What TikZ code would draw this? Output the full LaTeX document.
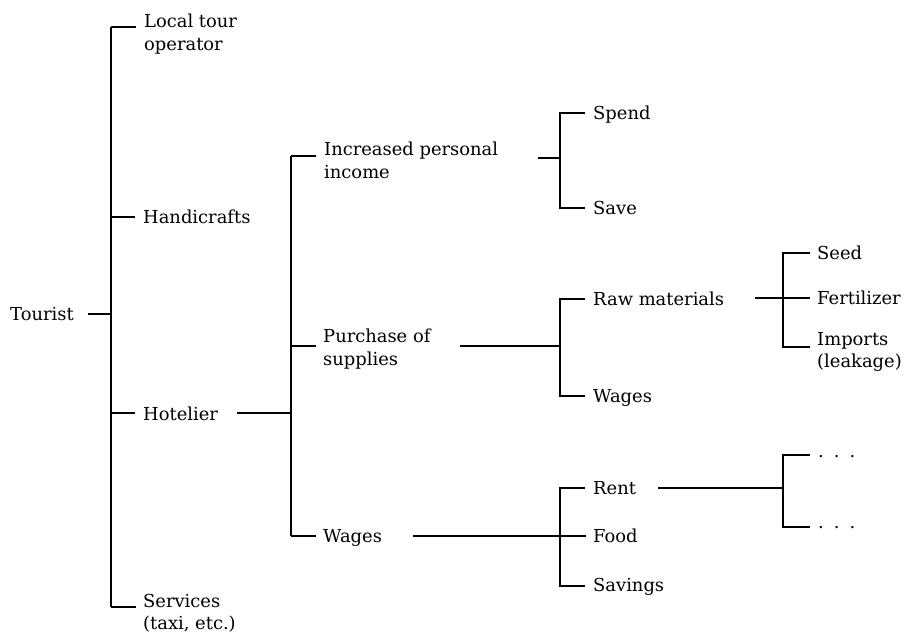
\documentclass[tikz,border=0pt]{standalone}
\usepackage{fontspec}
\setmainfont{DejaVu Serif}
\begin{document}
\begin{tikzpicture}[x=1pt,y=-1pt,
  lbl/.style={inner sep=0pt, font=\fontsize{17.9}{22.5}\selectfont},
  sl/.style={lbl, anchor=base west},
  ml/.style={lbl, anchor=north west, align=left},
  ln/.style={line width=2.1pt}]
\useasboundingbox (0,0) rectangle (909,634);

% ---- labels ----
\node[sl] (tourist) at (10,320) {Tourist};
\node[ml] (local) at (144,14) {Local tour\\operator};
\node[sl] (handi) at (143,223) {Handicrafts};
\node[sl] (hotel) at (143,420) {Hotelier};
\node[ml] (serv) at (143,594) {Services\\(taxi, etc.)};

\node[ml] (income) at (324,142) {Increased personal\\income};
\node[ml] (purch) at (323,329) {Purchase of\\supplies};
\node[sl] (wages1) at (323,542) {Wages};

\node[sl] (spend) at (593,119) {Spend};
\node[sl] (save) at (593,214) {Save};
\node[sl] (raw) at (593,305) {Raw materials};
\node[sl] (wages2) at (593,402) {Wages};
\node[sl] (rent) at (593,494) {Rent};
\node[sl] (food) at (593,542) {Food};
\node[sl] (savings) at (593,591) {Savings};

\node[sl] (seed) at (817,259) {Seed};
\node[sl] (fert) at (817,304) {Fertilizer};
\node[ml] (imports) at (817,332) {Imports\\(leakage)};
\node[sl] (dots1) at (818,457) {.\hskip 10pt.\hskip 10pt.};
\node[sl] (dots2) at (818,528) {.\hskip 10pt.\hskip 10pt.};

% ---- junction coordinates ----
\coordinate (t0) at (88,314);
\coordinate (v1a) at (111,27);
\coordinate (v1t) at (111,314);
\coordinate (v1h) at (111,217);
\coordinate (v1o) at (111,413);
\coordinate (v1b) at (111,607);

\coordinate (h0) at (237,413);
\coordinate (v2a) at (291,156);
\coordinate (v2h) at (291,413);
\coordinate (v2p) at (291,346);
\coordinate (v2b) at (291,536);

\coordinate (i0) at (538,158);
\coordinate (v3a) at (560,113);
\coordinate (v3i) at (560,158);
\coordinate (v3b) at (560,208);

\coordinate (p0) at (460,346);
\coordinate (v4a) at (560,299);
\coordinate (v4p) at (560,346);
\coordinate (v4b) at (560,396);

\coordinate (w0) at (413,536);
\coordinate (v5a) at (560,488);
\coordinate (v5w) at (560,536);
\coordinate (v5b) at (560,586);

\coordinate (r0) at (755,298);
\coordinate (v6a) at (783,253);
\coordinate (v6r) at (783,298);
\coordinate (v6b) at (783,347);

\coordinate (n0) at (658,488);
\coordinate (v7a) at (783,455);
\coordinate (v7r) at (783,488);
\coordinate (v7b) at (783,527);

% ---- level 1 ----
\draw[ln] (t0) -- (v1t);
\draw[ln] (v1a) -- (v1b);
\draw[ln] (v1a) -- ++(25,0);
\draw[ln] (v1h) -- ++(24,0);
\draw[ln] (v1o) -- ++(24,0);
\draw[ln] (v1b) -- ++(25,0);

% ---- level 2 ----
\draw[ln] (h0) -- (v2h);
\draw[ln] (v2a) -- (v2b);
\draw[ln] (v2a) -- ++(25,0);
\draw[ln] (v2p) -- ++(25,0);
\draw[ln] (v2b) -- ++(25,0);

% ---- level 3 ----
\draw[ln] (i0) -- (v3i);
\draw[ln] ([xshift=25pt]v3a) -- (v3a) -- (v3b) -- ++(25,0);

\draw[ln] (p0) -- (v4p);
\draw[ln] ([xshift=25pt]v4a) -- (v4a) -- (v4b) -- ++(25,0);

\draw[ln] (w0) -- (v5w) -- ++(26,0);
\draw[ln] ([xshift=25pt]v5a) -- (v5a) -- (v5b) -- ++(25,0);

% ---- level 4 ----
\draw[ln] (r0) -- (v6r) -- ++(27,0);
\draw[ln] ([xshift=27pt]v6a) -- (v6a) -- (v6b) -- ++(27,0);

\draw[ln] (n0) -- (v7r);
\draw[ln] ([xshift=27pt]v7a) -- (v7a) -- (v7b) -- ++(27,0);
\end{tikzpicture}
\end{document}
